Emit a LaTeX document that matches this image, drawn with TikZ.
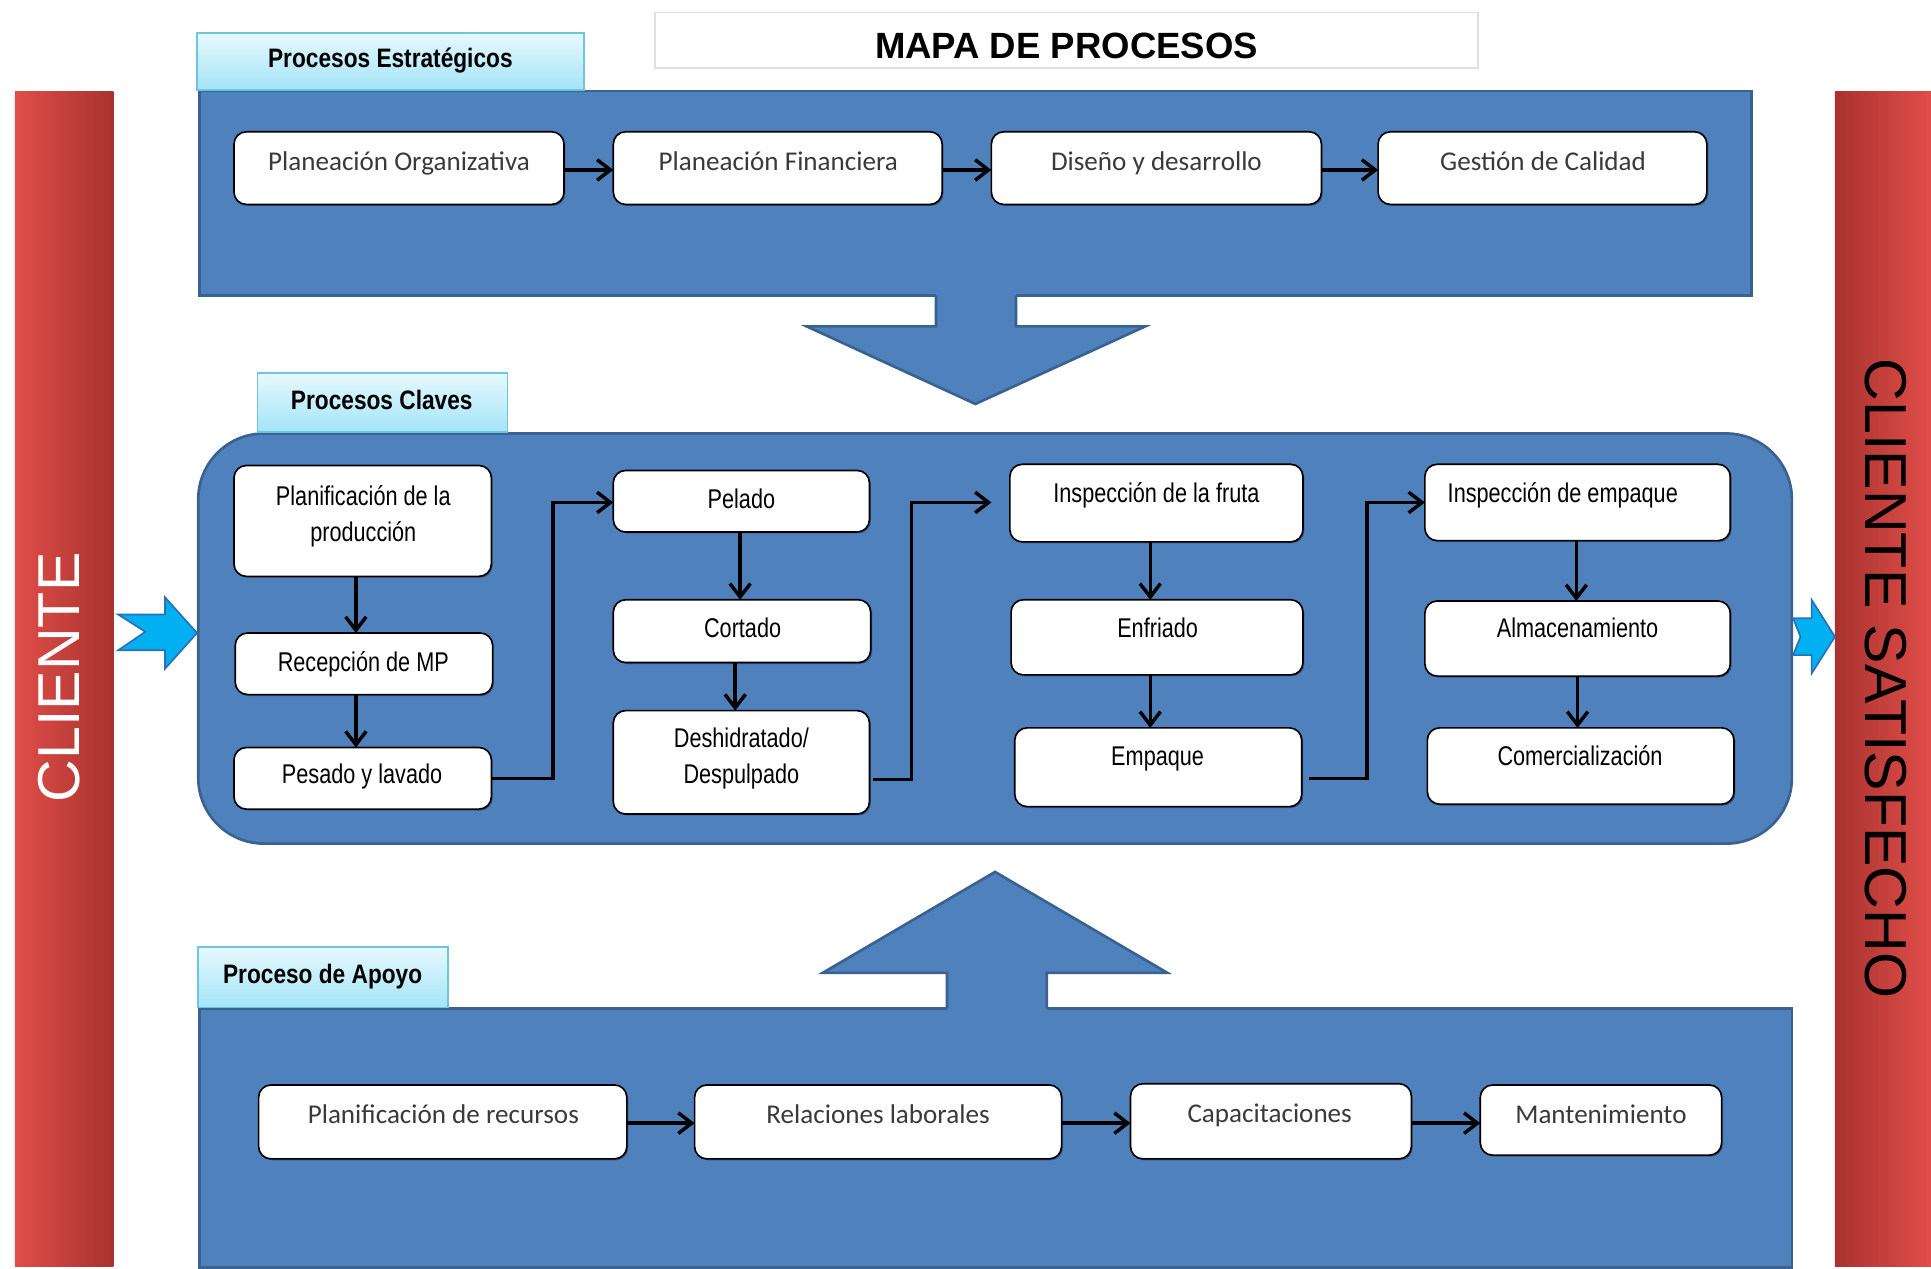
\documentclass[tikz,border=0pt]{standalone}
\usepackage{fontspec}
\setmainfont{Liberation Sans}
\newfontfamily\narrowfont[FakeStretch=0.8]{Liberation Sans}
\newfontfamily\hdrfont[FakeStretch=0.85]{Liberation Sans}
\newfontfamily\calfont{Carlito}
\usetikzlibrary{arrows.meta,shadows,fit,calc}
\definecolor{pblue}{HTML}{4F81BD}
\definecolor{pborder}{HTML}{3A6290}
\definecolor{hdrtop}{HTML}{E6F9FE}
\definecolor{hdrbot}{HTML}{A3E4F7}
\definecolor{hdrline}{HTML}{6CC6DC}
\definecolor{redl}{HTML}{E04E49}
\definecolor{redd}{HTML}{A8322F}
\definecolor{cyanarr}{HTML}{00B0F0}
\definecolor{arrline}{HTML}{2C6FB5}
\definecolor{txtgray}{HTML}{3A3A3A}
\tikzset{
  panel/.style={draw=pborder, line width=1.3pt, fill=pblue, inner sep=0pt, outer sep=0pt},
  hdrtab/.style={draw=hdrline, line width=0.8pt, top color=hdrtop, bottom color=hdrbot, inner sep=0pt, outer sep=0pt},
  hdrtxt/.style={font=\hdrfont\bfseries\fontsize{13}{15}\selectfont, text=black, inner sep=0pt, text height=9.3pt, text depth=0pt},
  pbox/.style={draw=black, line width=0.8pt, fill=white, rounded corners=6pt, inner sep=0pt, outer sep=0pt,
    drop shadow={shadow xshift=0.7pt, shadow yshift=-0.7pt, opacity=0.3, fill=black}},
  ctxt/.style={font=\calfont\fontsize{13.2}{15.8}\selectfont, text=txtgray, inner sep=0pt, text height=8.5pt, text depth=0pt},
  ntxt/.style={font=\narrowfont\fontsize{13.2}{15.8}\selectfont, text=black, inner sep=0pt, text height=9.45pt, text depth=0pt},
  ntxtb/.style={font=\narrowfont\fontsize{13.2}{17.4}\selectfont, text=black, inner sep=0pt, align=center},
  conn/.style={line width=1.7pt, draw=black, -{Straight Barb[length=6.5pt,width=10pt,line width=1.7pt]}},
  redbar/.style={inner sep=0pt, outer sep=0pt},
  notch/.style={fill=cyanarr, draw=arrline, line width=0.8pt, line join=miter},
  bigtxt/.style={font=\fontsize{28.8}{30}\selectfont, inner sep=0pt, text height=20.6pt, text depth=0pt},
}
\begin{document}
\begin{tikzpicture}[x=0.6pt,y=-0.6pt]
\useasboundingbox (0,0) rectangle (1568,1030);
\fill[white] (0,0) rectangle (1568,1030);

% red side bars
\node[redbar, fit={(12,74) (92,1028)}, left color=redl, right color=redd] (cbar) {};
\node[redbar, fit={(1490,74) (1568,1028)}, left color=redd, right color=redl] (sbar) {};
\node[bigtxt, text=white, rotate=90] (cli) at (47,550) {CLIENTE};
\node[bigtxt, text=black, rotate=-90] (clis) at (1532,551) {CLIENTE SATISFECHO};

% title
\node[draw=gray!25, line width=0.8pt, fill=white, inner sep=0pt, fit={(532,10) (1200,55)}] (tbox) {};
\node[font=\bfseries\fontsize{17.8}{20}\selectfont, inner sep=0pt, text height=12.7pt, text depth=0pt] (title) at (866,37) {MAPA DE PROCESOS};

% ===== strategic =====
\node[panel, fit={(162,74) (1422,240)}] (est) {};
\node[hdrtab, fit={(160,27) (474,73)}] (estH) {};
\node[hdrtxt] (estT) at (317,47) {Procesos Estratégicos};
\fill[pblue] (760,236) -- (760,265) -- (655,265) -- (792,328) -- (930,265) -- (825,265) -- (825,236) -- cycle;
\draw[pborder, line width=1.3pt, line join=miter] (760,240) -- (760,265) -- (655,265) -- (792,328) -- (930,265) -- (825,265) -- (825,240);

\node[pbox, fit={(190,107) (458,166)}] (po) {};
\node[pbox, fit={(498,107) (765,166)}] (pf) {};
\node[pbox, fit={(805,107) (1073,166)}] (dd) {};
\node[pbox, fit={(1119,107) (1386,166)}] (gc) {};
\node[ctxt] (poT) at (324,131) {Planeación Organizativa};
\node[ctxt] (pfT) at (632,131) {Planeación Financiera};
\node[ctxt] (ddT) at (939,131) {Diseño y desarrollo};
\node[ctxt] (gcT) at (1253,131) {Gestión de Calidad};
\draw[conn] (po.east |- 0,138) -- (pf.west |- 0,138);
\draw[conn] (pf.east |- 0,138) -- (dd.west |- 0,138);
\draw[conn] (dd.east |- 0,138) -- (gc.west |- 0,138);

% ===== key processes =====
\node[panel, rounded corners=32pt, fit={(161,352) (1455,685)}] (cla) {};
\node[hdrtab, fit={(209,303) (412,351)}] (claH) {};
\node[hdrtxt] (claT) at (310,325) {Procesos Claves};

\draw[notch] (96,499) -- (134,499) -- (134,485) -- (160,514) -- (134,543) -- (134,528) -- (96,528) -- (118,513) -- cycle;
\draw[notch] (1456,502) -- (1471,502) -- (1471,487) -- (1490,517) -- (1471,547) -- (1471,532) -- (1456,532) -- (1462,517) -- cycle;

\node[pbox, fit={(190,378) (399,468)}] (ppl) {};
\node[pbox, fit={(191,514) (400,564)}] (rmp) {};
\node[pbox, fit={(190,607) (399,657)}] (pyl) {};
\node[pbox, fit={(498,382) (706,432)}] (pel) {};
\node[pbox, fit={(498,487) (707,538)}] (cor) {};
\node[pbox, fit={(498,577) (706,661)}] (des) {};
\node[pbox, fit={(820,377) (1058,440)}] (inf) {};
\node[pbox, fit={(821,487) (1058,548)}] (enf) {};
\node[pbox, fit={(824,591) (1057,655)}] (emp) {};
\node[pbox, fit={(1157,377) (1405,439)}] (iem) {};
\node[pbox, fit={(1157,488) (1405,549)}] (alm) {};
\node[pbox, fit={(1159,591) (1408,653)}] (com) {};

\node[ntxtb] (pplT) at (295,419.5) {Planificación de la\\producción};
\node[ntxt] (rmpT) at (295,537) {Recepción de MP};
\node[ntxt] (pylT) at (294,628) {Pesado y lavado};
\node[ntxt] (pelT) at (602,405) {Pelado};
\node[ntxt] (corT) at (603,510) {Cortado};
\node[ntxtb] (desT) at (602,616) {Deshidratado/\\Despulpado};
\node[ntxt] (infT) at (939,400) {Inspección de la fruta};
\node[ntxt] (enfT) at (940,510) {Enfriado};
\node[ntxt] (empT) at (940,614) {Empaque};
\node[ntxt] (iemT) at (1269,400) {Inspección de empaque};
\node[ntxt] (almT) at (1281,510) {Almacenamiento};
\node[ntxt] (comT) at (1283,614) {Comercialización};

\draw[conn] (ppl.south -| 289,0) -- (rmp.north -| 289,0);
\draw[conn] (rmp.south -| 289,0) -- (pyl.north -| 289,0);
\draw[conn] (pel.south -| 601,0) -- (cor.north -| 601,0);
\draw[conn] (cor.south -| 597,0) -- (des.north -| 597,0);
\draw[conn] (inf.south -| 934,0) -- (enf.north -| 934,0);
\draw[conn] (enf.south -| 934,0) -- (emp.north -| 934,0);
\draw[conn] (iem.south -| 1280,0) -- (alm.north -| 1280,0);
\draw[conn] (alm.south -| 1281,0) -- (com.north -| 1281,0);

\coordinate (k1) at (449,408);
\coordinate (k2) at (740,408);
\coordinate (k3) at (1110,408);
\draw[conn, line join=miter] (pyl.east) -| (k1) -- (pel.west |- k1);
\draw[conn, line join=miter] ($(des.east)+(3,14)$) -| (k2) -- ($(inf.west |- k2)+(-15,0)$);
\draw[conn, line join=miter] ($(emp.east)+(6,9)$) -| (k3) -- (iem.west |- k3);

% ===== support =====
\node[panel, fit={(162,819) (1455,1029)}] (apo) {};
\node[hdrtab, fit={(161,769) (364,818)}] (apoH) {};
\node[hdrtxt] (apoT) at (262,791) {Proceso de Apoyo};
\fill[pblue] (769,823) -- (769,790) -- (668,790) -- (808,708) -- (948,790) -- (850,790) -- (850,823) -- cycle;
\draw[pborder, line width=1.3pt, line join=miter] (769,819) -- (769,790) -- (668,790) -- (808,708) -- (948,790) -- (850,790) -- (850,819);

\node[pbox, fit={(210,881) (509,941)}] (pr) {};
\node[pbox, fit={(564,881) (862,941)}] (rl) {};
\node[pbox, fit={(918,880) (1146,941)}] (cap) {};
\node[pbox, fit={(1202,881) (1398,938)}] (man) {};
\node[ctxt] (prT) at (360,905) {Planificación de recursos};
\node[ctxt] (rlT) at (713,905) {Relaciones laborales};
\node[ctxt] (capT) at (1031,904) {Capacitaciones};
\node[ctxt] (manT) at (1300,905) {Mantenimiento};
\draw[conn] (pr.east |- 0,912) -- (rl.west |- 0,912);
\draw[conn] (rl.east |- 0,912) -- (cap.west |- 0,912);
\draw[conn] (cap.east |- 0,912) -- (man.west |- 0,912);
\end{tikzpicture}
\end{document}
